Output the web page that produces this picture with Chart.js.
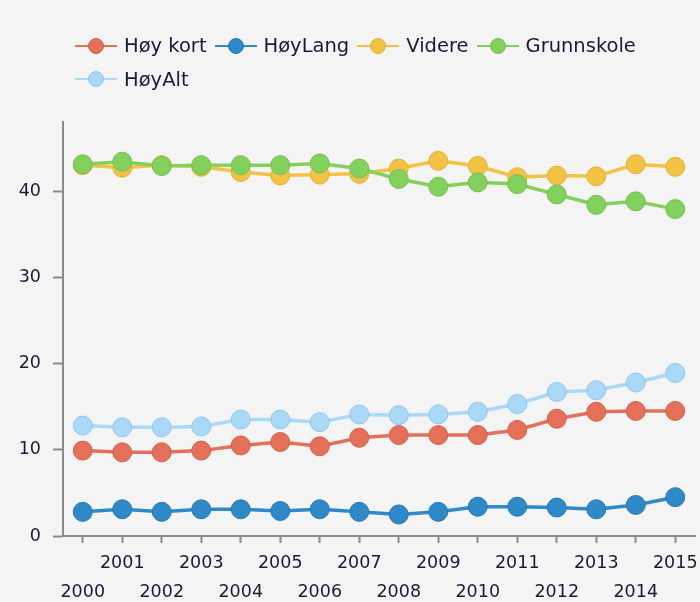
<!DOCTYPE html>
<html>
<head>
<meta charset="utf-8">
<script src="https://cdn.jsdelivr.net/npm/chart.js@4/dist/chart.umd.min.js"></script>
<style>
	body { margin: 0; background: #f4f4f4; }
	#wrap { position: relative; width: 700px; height: 602px; }
	#legend { position: absolute; left: 75px; top: 29px; width: 590px; display: flex; flex-wrap: wrap;
		font-family: "DejaVu Sans"; font-size: 19.5px; color: #1a1a36; }
	.item { display: flex; align-items: center; height: 33.5px; margin-right: 8px; }
	.mark { position: relative; width: 42px; height: 16px; margin-right: 7px; }
	.mark .ln { position: absolute; left: 0; right: 0; top: 7px; height: 2px; }
	.mark .dot { position: absolute; left: 13px; top: 0; width: 14px; height: 14px; border-radius: 50%; border: 1px solid; }
</style>
</head>
<body>
<div id="wrap">
	<canvas id="myChart" width="700" height="602"></canvas>
	<div id="legend"></div>
</div>
<script>
// data
var years = ["2000", "2001", "2002", "2003", "2004", "2005", "2006", "2007", "2008", "2009", "2010", "2011", "2012", "2013", "2014", "2015"];
var hoyKort = [9.9, 9.7, 9.7, 9.9, 10.5, 10.9, 10.4, 11.4, 11.7, 11.7, 11.7, 12.3, 13.6, 14.4, 14.5, 14.5];
var hoyLang = [2.8, 3.1, 2.8, 3.1, 3.1, 2.9, 3.1, 2.8, 2.5, 2.8, 3.4, 3.4, 3.3, 3.1, 3.6, 4.5];
var videre = [43.0, 42.7, 43.0, 42.8, 42.2, 41.8, 41.9, 42.0, 42.6, 43.5, 42.9, 41.6, 41.8, 41.7, 43.1, 42.8];
var grunnskole = [43.1, 43.4, 42.9, 43.0, 43.0, 43.0, 43.2, 42.6, 41.4, 40.5, 41.0, 40.8, 39.6, 38.4, 38.8, 37.9];
var hoyAlt = [12.8, 12.6, 12.6, 12.7, 13.5, 13.5, 13.2, 14.1, 14.0, 14.1, 14.4, 15.3, 16.7, 16.9, 17.8, 18.9];
var yTicks = [0, 10, 20, 30, 40];

function series(label, data, fill, edge, order) {
	return {
		label: label,
		data: data,
		borderColor: fill,
		backgroundColor: fill,
		borderWidth: 3.5,
		pointRadius: 9.5,
		pointBackgroundColor: fill,
		pointBorderColor: edge,
		pointBorderWidth: 1,
		tension: 0,
		order: order,
	};
}

var datasets = [
	series("Høy kort", hoyKort, "#e5705a", "#d2604b", 2),
	series("HøyLang", hoyLang, "#2f89c9", "#2678b4", 4),
	series("Videre", videre, "#f2c244", "#e2b236", 1),
	series("Grunnskole", grunnskole, "#84d05c", "#72bf4d", 0),
	series("HøyAlt", hoyAlt, "#aad8f7", "#8fc6ec", 3),
];

var axisGrey = "#8a8a8a";

var ctx = document.getElementById("myChart").getContext("2d");
var myChart = new Chart(ctx, {
	type: "line",
	data: { labels: years, datasets: datasets },
	options: {
		responsive: false,
		animation: false,
		layout: { autoPadding: false, padding: { left: 0, right: 5, top: 122, bottom: 0 } },
		plugins: { legend: { display: false }, tooltip: { enabled: false } },
		scales: {
			x: {
				offset: true,
				afterFit: function (scale) {
					// fixed band for the two rows of year labels
					scale.height = 66;
					scale.paddingLeft = 0;
					scale.paddingRight = 0;
				},
				border: { display: true, color: axisGrey, width: 2 },
				grid: { drawOnChartArea: false, drawTicks: true, tickLength: 7, tickColor: axisGrey, tickWidth: 2 },
				ticks: {
					autoSkip: false,
					maxRotation: 0,
					padding: 6,
					color: "#1a1a36",
					font: { family: "DejaVu Sans", size: 17.5, lineHeight: 1.66 },
					callback: function (val, i) {
						var t = years[i];
						return i % 2 ? [t] : ["", t];
					},
				},
			},
			y: {
				min: 0,
				max: 48,
				afterBuildTicks: function (scale) {
					scale.ticks = yTicks.map(function (v) { return { value: v }; });
				},
				afterFit: function (scale) {
					scale.width = 63;
					scale.paddingTop = 0;
					scale.paddingBottom = 0;
				},
				border: { display: true, color: axisGrey, width: 2 },
				grid: { drawOnChartArea: false, drawTicks: true, tickLength: 10, tickColor: axisGrey, tickWidth: 2 },
				ticks: {
					padding: 12,
					color: "#1a1a36",
					font: { family: "DejaVu Sans", size: 17.5 },
				},
			},
		},
	},
});

// html legend in the dataset order
var legend = document.getElementById("legend");
datasets.forEach(function (ds) {
	var item = document.createElement("div");
	item.className = "item";
	item.innerHTML = '<span class="mark"><span class="ln" style="background:' + ds.borderColor + '"></span>' +
		'<span class="dot" style="background:' + ds.backgroundColor + ';border-color:' + ds.pointBorderColor + '"></span></span>' +
		'<span>' + ds.label + '</span>';
	legend.appendChild(item);
});
</script>
</body>
</html>
